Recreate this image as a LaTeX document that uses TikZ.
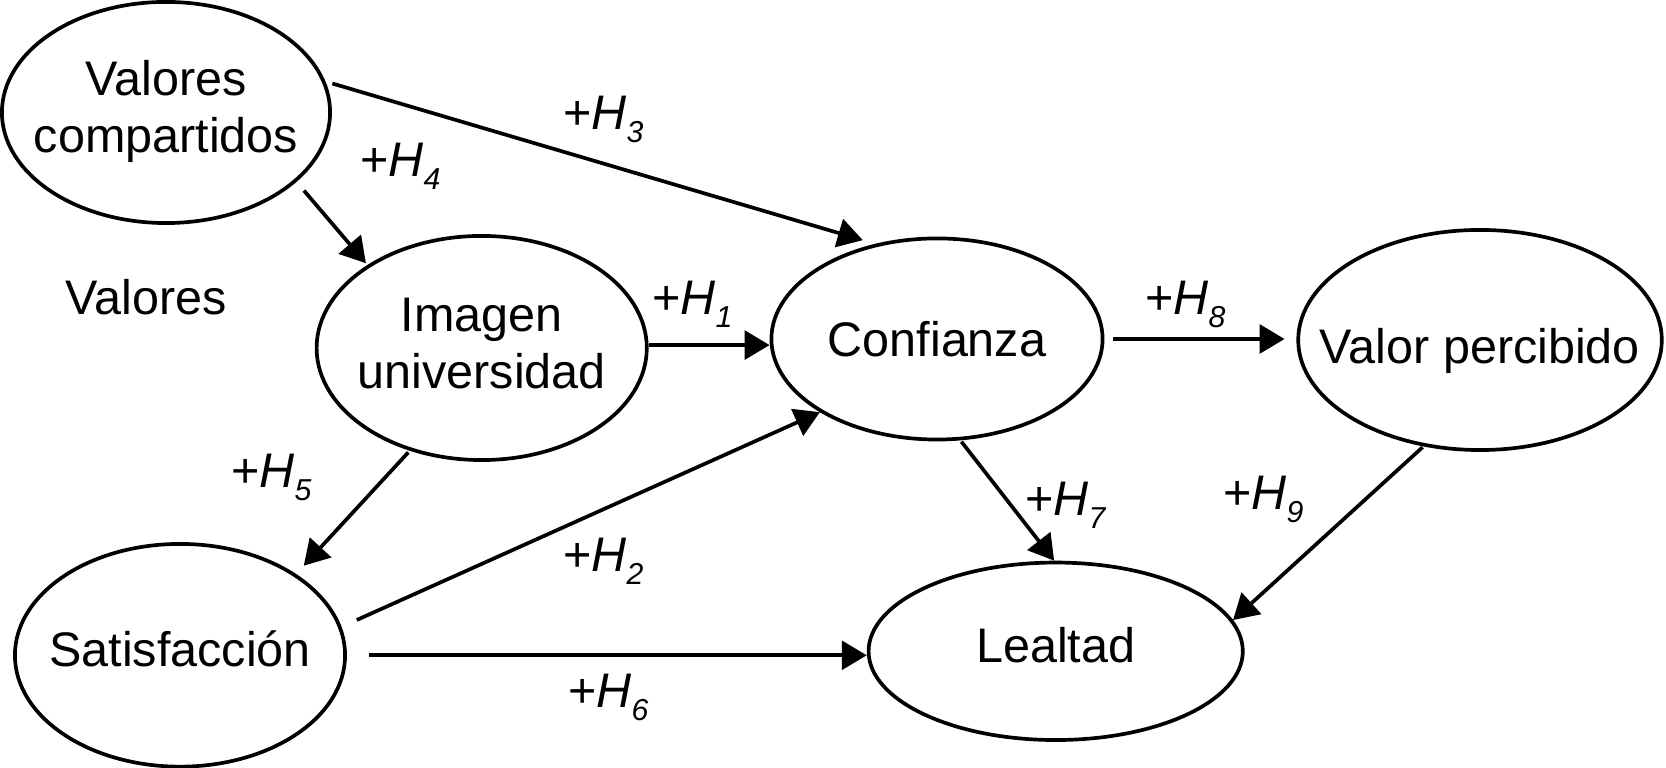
\documentclass[tikz,border=0pt]{standalone}
\usepackage{fontspec}
\setmainfont{Liberation Sans}
\usetikzlibrary{shapes.geometric,arrows.meta}
\newcommand\hyp[1]{+\textit{H}\raisebox{-3.6pt}{\fontsize{8.6}{9}\selectfont\textit{#1}}}
\begin{document}
\begin{tikzpicture}[x=0.01cm,y=-0.01cm,
  ell/.style={draw, ellipse, line width=1.05pt, inner sep=0pt},
  lbl/.style={font=\fontsize{13.8}{16.2}\selectfont, inner sep=0pt, align=center},
  hlbl/.style={font=\fontsize{13.8}{16.2}\selectfont, inner sep=0pt, anchor=base west},
  arr/.style={line width=1.05pt, -{Triangle[length=7.1pt,width=8.2pt]}}]
\useasboundingbox (0,0) rectangle (1666,768);
% ellipses
\node[ell, minimum width=3.28cm, minimum height=2.21cm] (vc) at (166,112.5) {};
\node[ell, minimum width=3.30cm, minimum height=2.24cm] (iu) at (481.7,348) {};
\node[ell, minimum width=3.31cm, minimum height=2.01cm] (cf) at (937,339) {};
\node[ell, minimum width=3.634cm, minimum height=2.20cm] (vp) at (1480,340) {};
\node[ell, minimum width=3.30cm, minimum height=2.226cm] (sa) at (180,655.3) {};
\node[ell, minimum width=3.74cm, minimum height=1.774cm] (le) at (1055.7,651.3) {};
% texts
\node[lbl] (tvc) at (166,111.5) {Valores\\compartidos};
\node[lbl] (tiu) at (481.7,344) {Imagen\\universidad};
\node[lbl] (tcf) at (937,339) {Confianza};
\node[lbl] (tvp) at (1480,351) {Valor percibido};
\node[lbl] (tsa) at (180,649) {Satisfacción};
\node[lbl] (tle) at (1055.7,645) {Lealtad};
\node[lbl] (tv) at (146,297.5) {Valores};
% connectors
\draw[arr, shorten <=0.072cm, shorten >=0.129cm] (vc.11.1) -- (cf.123.8);
\draw[arr, shorten <=0.114cm, shorten >=0.023cm] (vc.-28.5) -- (iu.144.0);
\draw[arr] (iu.1.9) -- (iu.1.9 -| cf.west);
\draw[arr, shorten <=0.09cm, shorten >=0.118cm] (cf.0.65) -- (cf.0.65 -| vp.west);
\draw[arr, shorten <=0.022cm, shorten >=0.112cm] (iu.-125.65) -- (sa.35.7);
\draw[arr, shorten <=0.167cm] (sa.10.77) -- (cf.212.36);
\draw[arr, shorten <=0.218cm] (sa.-0.67) -- (sa.-0.67 -| le.west);
\draw[arr, shorten <=0.017cm] (cf.-77.38) -- (le.91.5);
\draw[arr, shorten <=0.011cm] (vp.-118.65) -- (le.10.08);
% hypothesis labels
\node[hlbl] (h3) at (562.5,130) {\hyp{3}};
\node[hlbl] (h4) at (359.5,177) {\hyp{4}};
\node[hlbl] (h1) at (651.5,315) {\hyp{1}};
\node[hlbl] (h8) at (1144.5,315) {\hyp{8}};
\node[hlbl] (h5) at (230.5,488) {\hyp{5}};
\node[hlbl] (h2) at (562.5,572) {\hyp{2}};
\node[hlbl] (h6) at (567.5,708) {\hyp{6}};
\node[hlbl] (h7) at (1024.5,516) {\hyp{7}};
\node[hlbl] (h9) at (1222.5,510) {\hyp{9}};
\end{tikzpicture}
\end{document}
